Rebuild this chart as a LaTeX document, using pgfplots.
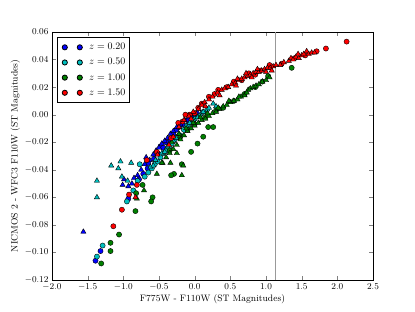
\documentclass[border=0pt]{standalone}
\usepackage{pgfplots}
\pgfplotsset{compat=1.18}
\definecolor{mb}{rgb}{0,0,1}
\definecolor{mc}{rgb}{0,0.75,0.75}
\definecolor{mg}{rgb}{0,0.5,0}
\definecolor{mr}{rgb}{1,0,0}
\pgfplotsset{
  circ/.style={only marks, mark=*, mark size=2.6pt, mark options={draw=black, line width=0.4pt}},
  tri/.style={only marks, mark=triangle*, mark size=3.0pt, mark options={draw=black, line width=0.4pt}},
}
\begin{document}
\begin{tikzpicture}
\path[use as bounding box] (0,0) rectangle (415pt,312pt);
\begin{axis}[
  at={(52pt,32pt)}, anchor=south west,
  scale only axis, width=321pt, height=248pt,
  xmin=-2, xmax=2.5, ymin=-0.12, ymax=0.06,
  xtick={-2,-1.5,-1,-0.5,0,0.5,1,1.5,2,2.5},
  ytick={-0.12,-0.10,-0.08,-0.06,-0.04,-0.02,0,0.02,0.04,0.06},
  tick align=inside, major tick length=4pt,
  tick label style={font=\fontsize{9.3}{11}\selectfont},
  xticklabel style={yshift=-0.5pt, /pgf/number format/.cd, fixed, fixed zerofill, precision=1},
  yticklabel style={/pgf/number format/.cd, fixed, fixed zerofill, precision=2},
  scaled y ticks=false,
  label style={font=\fontsize{9.3}{11}\selectfont},
  xlabel={F775W - F110W (ST Magnitudes)},
  ylabel={NICMOS 2 - WFC3 F110W (ST Magnitudes)},
  xlabel style={yshift=3pt},
  ylabel style={yshift=-2pt},
  axis line style={line width=0.8pt},
  legend style={at={(0.0156,0.98)}, anchor=north west, draw=black, line width=0.8pt,
    font=\fontsize{10}{12}\selectfont, row sep=3.2pt, inner xsep=2pt, inner ysep=4pt},
  legend cell align=left,
  legend image code/.code={\path (-5pt,0pt) (22pt,0pt);\draw[mark repeat=1] plot coordinates {(0pt,0pt) (15pt,0pt)};},
]
\addplot[gray!80, line width=0.8pt, forget plot] coordinates {(1.125,-0.12) (1.125,0.06)};
% z = 0.20
\addplot[circ, fill=mb, mark options={fill=mb}] coordinates {
(-1.39,-0.106) (-1.32,-0.099) (-0.93,-0.061) (-0.78,-0.047) (-0.72,-0.043) (-0.66,-0.039)
(-0.65,-0.035) (-0.57,-0.032) (-0.52,-0.028) (-0.48,-0.023) (-0.44,-0.024) (-0.40,-0.020)
(-0.34,-0.018) (-0.30,-0.014) (-0.26,-0.011) (-0.22,-0.009) (-0.17,-0.007) (-0.10,-0.004)
(-0.03,-0.001) (0.03,0.001)
};
\addlegendentry{$z=0.20$}
\addplot[tri, fill=mb, mark options={fill=mb}, forget plot] coordinates {
(-1.56,-0.085) (-0.99,-0.047) (-1.01,-0.051) (-0.88,-0.050) (-0.93,-0.052) (-0.85,-0.046)
(-0.80,-0.044) (-0.75,-0.040) (-0.70,-0.036) (-0.68,-0.031) (-0.63,-0.033) (-0.58,-0.029)
(-0.54,-0.026) (-0.50,-0.024) (-0.46,-0.021) (-0.42,-0.019) (-0.38,-0.017) (-0.34,-0.014)
(-0.30,-0.012) (-0.25,-0.009) (-0.20,-0.007) (-0.14,-0.004) (-0.08,-0.002) (0.00,0.000)
};
% z = 0.50
\addplot[circ, fill=mc, mark options={fill=mc}] coordinates {
(-1.37,-0.103) (-1.29,-0.095) (-0.95,-0.063) (-0.86,-0.055) (-0.77,-0.036) (-0.80,-0.048)
(-0.70,-0.045) (-0.65,-0.042) (-0.60,-0.039) (-0.56,-0.036) (-0.52,-0.034) (-0.48,-0.031)
(-0.44,-0.028) (-0.40,-0.026) (-0.36,-0.024) (-0.32,-0.021) (-0.28,-0.018) (-0.24,-0.016)
(-0.20,-0.015) (-0.15,-0.011) (-0.10,-0.008) (-0.05,-0.006) (0.00,-0.003) (0.06,-0.001)
(0.12,0.002) (0.18,0.004)
};
\addlegendentry{$z=0.50$}
\addplot[tri, fill=mc, mark options={fill=mc}, forget plot] coordinates {
(-1.37,-0.060) (-1.37,-0.048) (-1.17,-0.037) (-1.04,-0.034) (-0.89,-0.035) (-1.07,-0.039)
(-1.02,-0.045) (-0.94,-0.048) (-0.62,-0.038) (-0.55,-0.033) (-0.46,-0.028) (-0.38,-0.023)
(-0.30,-0.019) (-0.22,-0.014) (-0.12,-0.008) (-0.02,-0.004) (0.08,0.000) (0.12,0.002)
(0.20,0.005) (0.26,0.008) (0.30,0.006) (0.04,-0.002) (-0.07,-0.006) (-0.26,-0.017)
(-0.42,-0.027) (-0.58,-0.037)
};
% z = 1.00
\addplot[circ, fill=mg, mark options={fill=mg}] coordinates {
(1.36,0.034) (1.03,0.028) (0.95,0.024) (0.26,-0.009) (0.19,-0.009) (0.12,-0.016)
(0.04,-0.021) (-0.05,-0.027) (-0.18,-0.036) (-0.29,-0.043) (-0.33,-0.044) (-0.73,-0.051)
(-0.82,-0.057) (-0.59,-0.060) (-0.61,-0.063) (-0.83,-0.070) (-1.06,-0.087) (-1.18,-0.093)
(-1.18,-0.099) (-1.31,-0.108) (0.85,0.020) (0.70,0.015) (0.55,0.010) (0.40,0.005)
(0.30,0.003) (0.15,-0.002) (0.00,-0.007) (-0.10,-0.011) (-0.20,-0.016) (-0.35,-0.026)
};
\addlegendentry{$z=1.00$}
\addplot[tri, fill=mg, mark options={fill=mg}, forget plot] coordinates {
(-0.45,-0.035) (-0.40,-0.031) (-0.35,-0.028) (-0.30,-0.025) (-0.25,-0.022) (-0.20,-0.018)
(-0.15,-0.015) (-0.10,-0.012) (-0.05,-0.010) (0.00,-0.008) (0.05,-0.006) (0.10,-0.004)
(0.15,-0.003) (0.20,-0.001) (0.25,0.001) (0.30,0.002) (0.35,0.004) (0.40,0.006)
(0.45,0.007) (0.50,0.009) (0.55,0.010) (0.60,0.011) (0.65,0.013) (0.70,0.014)
(0.75,0.018) (0.78,0.019) (0.82,0.020) (0.86,0.021) (0.90,0.022) (0.95,0.024)
(1.00,0.025) (1.05,0.027) (0.73,0.016) (0.62,0.013) (0.48,0.010) (0.33,0.005)
(0.18,0.001) (0.08,-0.002) (-0.02,-0.006) (-0.12,-0.010) (-0.22,-0.014) (-0.32,-0.020)
(-0.18,-0.044) (-0.53,-0.043) (-0.71,-0.055) (-0.81,-0.061) (-0.34,-0.035) (-0.46,-0.035)
(-0.16,-0.037) (-0.25,-0.028)
};
% z = 1.50
\addplot[circ, fill=mr, mark options={fill=mr}] coordinates {
(2.13,0.053) (1.84,0.048) (1.71,0.046) (1.55,0.043) (1.40,0.041) (1.22,0.037)
(1.05,0.036) (0.92,0.032) (0.85,0.029) (0.76,0.030) (0.66,0.025) (0.55,0.024)
(0.45,0.020) (0.33,0.018) (0.28,0.015) (0.20,0.013) (0.10,0.008) (0.05,0.005)
(0.00,0.001) (-0.07,0.000) (-0.13,0.000) (-0.17,-0.005) (-0.23,-0.006) (-0.33,-0.017)
(-0.53,-0.027) (-0.67,-0.033) (-0.81,-0.051) (-0.92,-0.058) (-1.02,-0.069) (-1.14,-0.081)
};
\addlegendentry{$z=1.50$}
\addplot[tri, fill=mr, mark options={fill=mr}, forget plot] coordinates {
(-0.30,-0.016) (-0.22,-0.009) (-0.15,-0.004) (-0.08,-0.001) (-0.02,0.002) (0.05,0.004)
(0.10,0.007) (0.14,0.009) (0.20,0.011) (0.25,0.013) (0.32,0.016) (0.38,0.018)
(0.42,0.019) (0.47,0.020) (0.52,0.022) (0.57,0.023) (0.62,0.025) (0.66,0.026)
(0.70,0.027) (0.74,0.028) (0.78,0.029) (0.82,0.030) (0.86,0.031) (0.90,0.031)
(0.94,0.032) (0.98,0.033) (1.02,0.034) (1.06,0.034) (1.10,0.035) (1.14,0.036)
(1.20,0.036) (1.32,0.039) (1.35,0.041) (1.38,0.040) (1.42,0.042) (1.46,0.041)
(1.50,0.043) (1.53,0.044) (1.57,0.046) (1.60,0.044) (1.64,0.045) (1.68,0.045)
(0.72,0.030) (0.88,0.033) (1.00,0.031) (0.58,0.021) (0.35,0.014) (0.15,0.006)
(-0.05,-0.003) (0.60,0.026) (0.80,0.027) (1.08,0.032) (1.25,0.038) (1.45,0.044)
(-0.83,-0.060) (-0.52,-0.029) (-0.36,-0.022)
};
\end{axis}
\end{tikzpicture}
\end{document}
